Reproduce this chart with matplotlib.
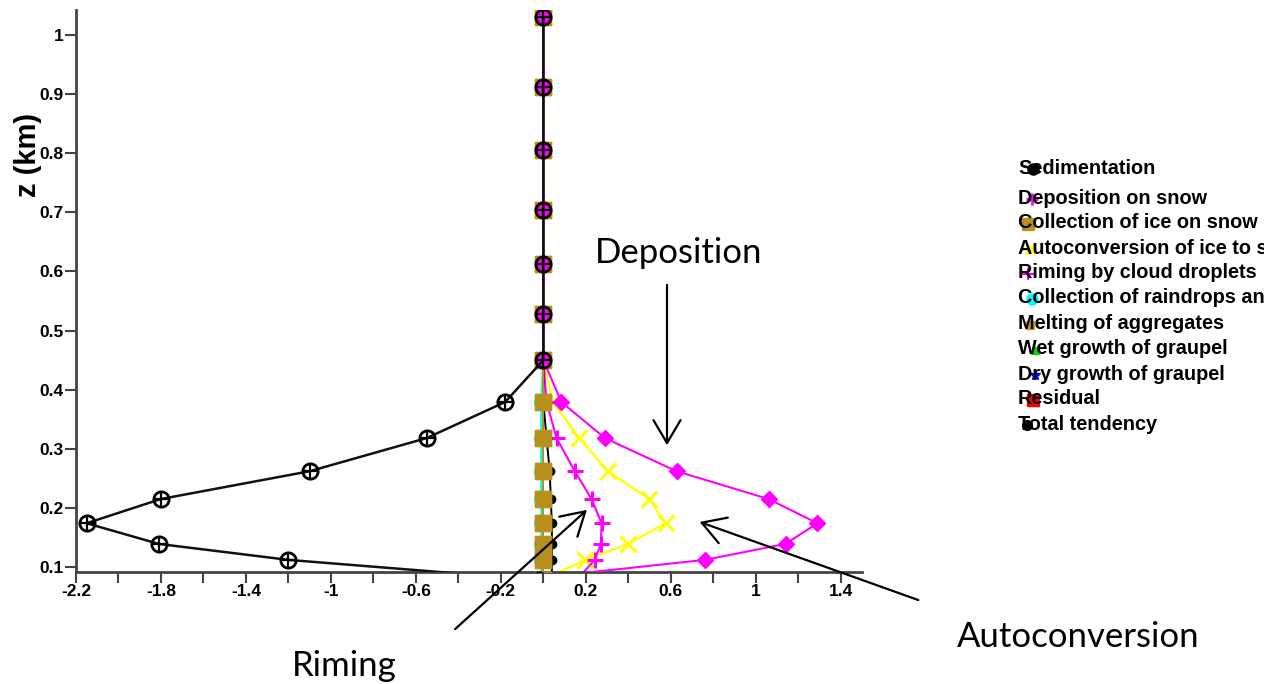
import matplotlib
matplotlib.use("Agg")
import matplotlib.pyplot as plt
from matplotlib.lines import Line2D
from matplotlib.patches import FancyArrowPatch

W, H = 1264, 684

# Height levels (km)
z = [1.030, 0.912, 0.805, 0.704, 0.612, 0.528, 0.450, 0.379, 0.318, 0.262,
     0.215, 0.174, 0.139, 0.112, 0.078]

# Process tendencies at each level
sedimentation = [0, 0, 0, 0, 0, 0, 0, -0.18, -0.55, -1.10,
                 -1.80, -2.15, -1.81, -1.20, -0.02]
deposition = [0, 0, 0, 0, 0, 0, 0, 0.085, 0.29, 0.627,
              1.06, 1.29, 1.14, 0.76, -0.12]
collection_ice = [0, 0, 0, 0, 0, 0, 0, 0.0, 0.0, 0.0,
                  0.0, 0.0, 0.0, 0.0, 0.0]
autoconversion = [0, 0, 0, 0, 0, 0, 0, 0.046, 0.169, 0.305,
                  0.498, 0.576, 0.399, 0.198, -0.006]
riming = [0, 0, 0, 0, 0, 0, 0, 0.015, 0.062, 0.148,
          0.227, 0.274, 0.271, 0.242, 0.156]
collection_rain = [0, 0, 0, 0, 0, 0, 0, -0.01, -0.01, -0.01,
                   -0.01, -0.01, -0.01, -0.01, -0.01]
melting = [0, 0, 0, 0, 0, 0, 0, 0.0, 0.0, 0.0,
           0.0, 0.0, 0.0, 0.0, 0.0]
wet_growth = [0] * 15
dry_growth = [0] * 15
residual = [0] * 15
total = [0, 0, 0, 0, 0, 0, 0, 0.0, 0.015, 0.03,
         0.035, 0.04, 0.04, 0.04, 0.04]

labels = ["Sedimentation", "Deposition on snow", "Collection of ice on snow",
          "Autoconversion of ice to snow", "Riming by cloud droplets",
          "Collection of raindrops and snow", "Melting of aggregates",
          "Wet growth of graupel", "Dry growth of graupel", "Residual",
          "Total tendency"]

xmajor = [-2.2, -1.8, -1.4, -1.0, -0.6, -0.2, 0.2, 0.6, 1.0, 1.4]
xmajor_labels = ["-2.2", "-1.8", "-1.4", "-1", "-0.6", "-0.2", "0.2", "0.6", "1", "1.4"]
xminor = [-2.0, -1.6, -1.2, -0.8, -0.4, 0.0, 0.4, 0.8, 1.2]
yticks = [0.1, 0.2, 0.3, 0.4, 0.5, 0.6, 0.7, 0.8, 0.9, 1.0]
ytick_labels = ["0.1", "0.2", "0.3", "0.4", "0.5", "0.6", "0.7", "0.8", "0.9", "1"]

plt.rcParams["font.family"] = ["Liberation Sans", "DejaVu Sans"]
plt.rcParams["font.weight"] = "bold"

fig = plt.figure(figsize=(W / 100, H / 100), dpi=100)


def fx(px):
    return px / W


def fy(py):
    return 1 - py / H


ax = fig.add_axes([fx(76), fy(572), fx(862) - fx(76), fy(10) - fy(572)])
ax.set_xlim(-2.2, 1.5)
ax.set_ylim(0.0915, 1.0423)

GOLD = "#b8901c"
GOLD2 = "#c49a2c"
MAG = "#ff00ff"

ax.plot(autoconversion, z, color="#ffff00", lw=1.6, marker="x", ms=11, mew=2.2, zorder=2)
ax.plot(riming, z, color=MAG, lw=1.5, marker="+", ms=11, mew=2.2, zorder=2.2)
ax.plot(wet_growth, z, color="#00dd00", lw=1.2, marker="^", ms=6, zorder=2.3)
ax.plot(dry_growth, z, color="#0000ff", lw=1.2, marker="*", ms=6, zorder=2.3)
ax.plot(residual, z, color="#ff0000", lw=1.2, marker="s", ms=6, zorder=2.3)
ax.plot(collection_rain, z, color="#00ffff", lw=1.6, marker="o", ms=10, zorder=2.4)
ax.plot(total, z, color="black", lw=1.4, marker="o", ms=6, zorder=2.5)
ax.plot(melting, z, color=GOLD2, lw=1.4, marker="s", ms=11, zorder=2.9)
ax.plot(collection_ice, z, color=GOLD, lw=1.4, marker="s", ms=11, zorder=3)
ax.plot(deposition, z, color=MAG, lw=1.5, marker="D", ms=8.5, zorder=3.5)
ax.plot(sedimentation, z, color="#111111", lw=1.8, marker="o", ms=11,
        mfc="none", mec="black", mew=2.0, zorder=4)
ax.plot(sedimentation, z, ls="none", marker="+", ms=10, mec="black", mew=1.6, zorder=4.1)

for side in ("top", "right"):
    ax.spines[side].set_visible(False)
for side in ("left", "bottom"):
    ax.spines[side].set_color("#444444")
    ax.spines[side].set_linewidth(2)

ax.set_xticks(xmajor)
ax.set_xticklabels(xmajor_labels)
ax.set_xticks(xminor, minor=True)
ax.set_yticks(yticks)
ax.set_yticklabels(ytick_labels)
ax.tick_params(axis="both", which="both", direction="out", length=8, width=1.5,
               color="#444444", labelsize=12.5, pad=1)
ax.set_ylabel("z (km)", fontsize=21, fontweight="bold")
ax.yaxis.set_label_coords(fx(42 - 76) / (fx(862) - fx(76)),
                          (fy(155) - fy(572)) / (fy(10) - fy(572)))

# Legend drawn as text with marker glyphs over the first letters
leg_y = [168, 198, 223, 248, 273, 298, 324, 349, 374, 399, 424]
leg_mx = [1033, 1032, 1028, 1030, 1028, 1032, 1030, 1035, 1035, 1033, 1027]
leg_style = [
    dict(marker="o", ms=8, mfc="black", mec="black"),
    dict(marker="+", ms=8, mec=MAG, mew=2),
    dict(marker="s", ms=8, mfc=GOLD, mec=GOLD),
    dict(marker="x", ms=7, mec="#ffff00", mew=2),
    dict(marker="+", ms=8, mec=MAG, mew=1.5),
    dict(marker="o", ms=8, mfc="#00ffff", mec="#00ffff"),
    dict(marker="s", ms=6, mfc=GOLD2, mec=GOLD2),
    dict(marker="^", ms=6, mfc="#00dd00", mec="#00dd00"),
    dict(marker="*", ms=8, mfc="#0000ff", mec="#0000ff"),
    dict(marker="s", ms=8, mfc="#ff0000", mec="#ff0000"),
    dict(marker="o", ms=7, mfc="black", mec="black"),
]
for lab, yy, mx, st in zip(labels, leg_y, leg_mx, leg_style):
    fig.add_artist(Line2D([fx(mx)], [fy(yy + 1)], transform=fig.transFigure,
                          ls="none", zorder=1, **st))
    fig.text(fx(1018), fy(yy), lab, fontsize=14.3, fontweight="bold",
             va="center", ha="left", zorder=2)

# Process callouts
ann_font = dict(family=["Lato", "DejaVu Sans"], fontsize=25, fontweight="normal",
                color="black", va="baseline", ha="left")
fig.text(fx(595), fy(263), "Deposition", **ann_font)
fig.text(fx(292), fy(676), "Riming", **ann_font)
fig.text(fx(957), fy(647), "Autoconversion", **ann_font)

for (x0, y0), (x1, y1) in [((667, 282), (667, 448)),
                           ((453, 631), (589, 508)),
                           ((921, 601), (697, 521))]:
    fig.add_artist(FancyArrowPatch((fx(x0), fy(y0)), (fx(x1), fy(y1)),
                                   transform=fig.transFigure,
                                   arrowstyle="->,head_length=11,head_width=6.5",
                                   mutation_scale=1.5, lw=1.6, color="black"))

fig.savefig("out.png", dpi=100)
